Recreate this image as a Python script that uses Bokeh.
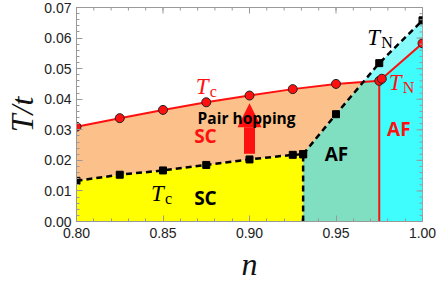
import numpy as np
from bokeh.plotting import figure
from bokeh.models import (Range1d, SingleIntervalTicker, PrintfTickFormatter,
                          Label, Arrow, NormalHead)
from bokeh.embed import file_html
from bokeh.resources import INLINE

# ---- data ----
n_tc_red = [0.80, 0.825, 0.85, 0.875, 0.90, 0.925, 0.95, 0.975]
tc_red = [0.031, 0.0338, 0.0365, 0.039, 0.0412, 0.0433, 0.045, 0.046]
n_tn_red = [0.9765, 1.00]
tn_red = [0.0467, 0.0583]

n_tc_blk = [0.80, 0.825, 0.85, 0.875, 0.90, 0.925, 0.931]
tc_blk = [0.0133, 0.0153, 0.0167, 0.0185, 0.0203, 0.0218, 0.022]
n_tn_blk = [0.931, 0.95, 0.975, 1.00]
tn_blk = [0.022, 0.0351, 0.0518, 0.0658]

arrow_n = [0.90]
arrow_t = [0.0222, 0.0387]

x_range = (0.80, 1.00)
y_range = (0.0, 0.07)
x_major, x_minor = 0.05, 0.01
y_major, y_minor = 0.01, 0.002

C_PEACH = "#FCC08A"
C_YELLOW = "#FFFF00"
C_GREEN = "#80DFC0"
C_CYAN = "#40FDFD"
C_LCYAN = "#84FAFA"
RED = "#FF1010"
TICK = "#999999"


def seg_intersect(xa, ya, xb, yb):
    for i in range(len(xa) - 1):
        for j in range(len(xb) - 1):
            x1, y1, x2, y2 = xa[i], ya[i], xa[i + 1], ya[i + 1]
            x3, y3, x4, y4 = xb[j], yb[j], xb[j + 1], yb[j + 1]
            d = (x1 - x2) * (y3 - y4) - (y1 - y2) * (x3 - x4)
            if d == 0:
                continue
            t = ((x1 - x3) * (y3 - y4) - (y1 - y3) * (x3 - x4)) / d
            u = -((x1 - x2) * (y1 - y3) - (y1 - y2) * (x1 - x3)) / d
            if 0 <= t <= 1 and 0 <= u <= 1:
                return x1 + t * (x2 - x1), y1 + t * (y2 - y1), i, j
    return None


ix, iy, ia, ib = seg_intersect(n_tc_red, tc_red, n_tn_blk, tn_blk)

p = figure(width=437, height=287, output_backend="svg", toolbar_location=None,
           x_range=Range1d(*x_range), y_range=Range1d(*y_range),
           min_border_left=76, min_border_right=15, min_border_top=7, min_border_bottom=66)
p.background_fill_color = "white"
p.border_fill_color = "white"
p.outline_line_color = TICK
p.grid.visible = False

# ---- filled regions ----
p.varea(x=n_tc_blk, y1=[0] * len(n_tc_blk), y2=tc_blk, fill_color=C_YELLOW)

orange_x = n_tc_red[:ia + 1] + [ix] + n_tn_blk[:ib + 1][::-1] + n_tc_blk[::-1]
orange_y = tc_red[:ia + 1] + [iy] + tn_blk[:ib + 1][::-1] + tc_blk[::-1]
p.patch(orange_x, orange_y, fill_color=C_PEACH, line_color=None)

green_x = [n_tn_blk[0]] + n_tn_blk[:ib + 1] + [ix] + n_tc_red[ia + 1:] + [n_tc_red[-1]]
green_y = [0] + tn_blk[:ib + 1] + [iy] + tc_red[ia + 1:] + [0]
p.patch(green_x, green_y, fill_color=C_GREEN, line_color=None)

lc_x = [ix] + n_tn_blk[ib + 1:] + n_tn_red[::-1] + n_tc_red[ia + 1:][::-1]
lc_y = [iy] + tn_blk[ib + 1:] + tn_red[::-1] + tc_red[ia + 1:][::-1]
p.patch(lc_x, lc_y, fill_color=C_LCYAN, line_color=None)

cyan_x = [n_tc_red[-1], n_tc_red[-1]] + n_tn_red + [n_tn_red[-1]]
cyan_y = [0, tc_red[-1]] + tn_red + [0]
p.patch(cyan_x, cyan_y, fill_color=C_CYAN, line_color=None)

# ---- lines ----
p.line(n_tc_red, tc_red, line_color=RED, line_width=2)
p.line([n_tc_red[-1]] + n_tn_red, [tc_red[-1]] + tn_red, line_color=RED, line_width=2)
p.line([n_tc_red[-1], n_tc_red[-1]], [0, tc_red[-1]], line_color=RED, line_width=2)

p.line(n_tc_blk, tc_blk, line_color="black", line_width=2.5, line_dash="6 4")
p.line([n_tc_blk[-1], n_tc_blk[-1]], [0, tc_blk[-1]], line_color="black", line_width=2.5, line_dash="6 4")
p.line(n_tn_blk, tn_blk, line_color="black", line_width=2.5, line_dash="6 4")

# ---- markers ----
p.scatter(n_tc_blk, tc_blk, marker="square", size=7, fill_color="black", line_color="black")
p.scatter(n_tn_blk, tn_blk, marker="square", size=7, fill_color="black", line_color="black")
p.scatter(n_tc_red, tc_red, marker="circle", size=9, fill_color=RED, line_color="#222222", line_width=1)
p.scatter(n_tn_red, tn_red, marker="circle", size=9, fill_color=RED, line_color="#222222", line_width=1)

# ---- arrow ----
p.add_layout(Arrow(end=NormalHead(size=24, fill_color=RED, line_color=RED, line_width=0),
                   x_start=arrow_n[0], y_start=arrow_t[0], x_end=arrow_n[0], y_end=arrow_t[1],
                   line_color=RED, line_width=11))

# ---- texts ----
def add_T(x, y, sub, color):
    p.add_layout(Label(x=x, y=y, text="T", text_font="Liberation Serif", text_font_style="italic",
                       text_font_size="23px", text_color=color, text_baseline="middle"))
    p.add_layout(Label(x=x, y=y, x_offset=14, y_offset=-5, text=sub, text_font="Liberation Serif",
                       text_font_size="16px", text_color=color, text_baseline="middle"))

add_T(0.8690, 0.0442, "c", RED)
add_T(0.8430, 0.0090, "c", "black")
add_T(0.9680, 0.0603, "N", "black")
add_T(0.9805, 0.0455, "N", RED)

def add_txt(x, y, t, color, size):
    p.add_layout(Label(x=x, y=y, text=t, text_font="Open Sans", text_font_style="bold",
                       text_font_size=size, text_color=color, text_baseline="middle"))

add_txt(0.8700, 0.0337, "Pair hopping", "black", "15.5px")
add_txt(0.8680, 0.0280, "SC", RED, "19px")
add_txt(0.8680, 0.0076, "SC", "black", "19px")
add_txt(0.9435, 0.0220, "AF", "black", "19px")
add_txt(0.9795, 0.0304, "AF", RED, "19px")

# ---- axes ----
for ax, iv in ((p.xaxis, x_major), (p.yaxis, y_major)):
    ax.ticker = SingleIntervalTicker(interval=iv, num_minor_ticks=5)
    ax.formatter = PrintfTickFormatter(format="%.2f")
    ax.major_tick_in = 6
    ax.major_tick_out = 0
    ax.minor_tick_in = 3
    ax.minor_tick_out = 0
    ax.major_tick_line_color = TICK
    ax.minor_tick_line_color = TICK
    ax.axis_line_color = TICK
    ax.major_label_text_font = "Liberation Sans"
    ax.major_label_text_font_size = "14px"
    ax.major_label_text_color = "#222222"
    ax.axis_label_text_font = "Liberation Serif"
    ax.axis_label_text_font_style = "italic"
    ax.axis_label_text_font_size = "32px"
    ax.axis_label_text_color = "#111111"

p.xaxis.axis_label = "n"
p.yaxis.axis_label = "T/t"
p.xaxis.major_label_standoff = 6
p.yaxis.major_label_standoff = 5
p.xaxis.axis_label_standoff = 5
p.yaxis.axis_label_standoff = 1

# mirrored ticks on top and right edges (half of each dash is clipped by the frame)
xt_major = np.arange(x_range[0], x_range[1] + 1e-9, x_major)
xt_minor = np.arange(x_range[0], x_range[1] + 1e-9, x_minor)
yt_major = np.arange(y_range[0], y_range[1] + 1e-9, y_major)
yt_minor = np.arange(y_range[0], y_range[1] + 1e-9, y_minor)
p.scatter(xt_minor, [y_range[1]] * len(xt_minor), marker="dash", angle=np.pi / 2, size=6, line_color=TICK)
p.scatter(xt_major, [y_range[1]] * len(xt_major), marker="dash", angle=np.pi / 2, size=12, line_color=TICK)
p.scatter([x_range[1]] * len(yt_minor), yt_minor, marker="dash", size=6, line_color=TICK)
p.scatter([x_range[1]] * len(yt_major), yt_major, marker="dash", size=12, line_color=TICK)

open("out.html", "w").write(file_html(p, INLINE))
